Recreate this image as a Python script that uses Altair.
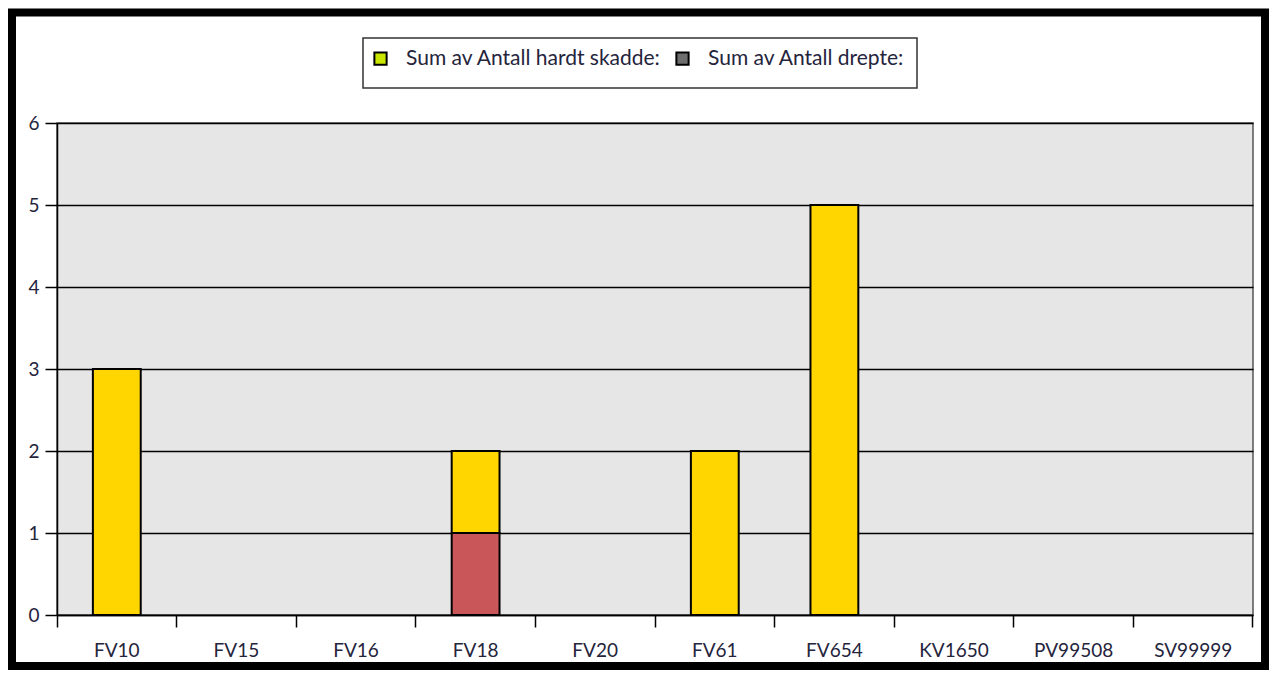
import altair as alt
import pandas as pd

categories = ["FV10", "FV15", "FV16", "FV18", "FV20", "FV61", "FV654", "KV1650", "PV99508", "SV99999"]
hardt_skadde = [3, 0, 0, 1, 0, 2, 5, 0, 0, 0]
drepte = [0, 0, 0, 1, 0, 0, 0, 0, 0, 0]
series_names = ["Sum av Antall hardt skadde:", "Sum av Antall drepte:"]
bar_colors = ["#ffd600", "#c9575a"]
legend_colors = ["#c8e600", "#6e6e6e"]
y_ticks = [0, 1, 2, 3, 4, 5, 6]

rows = []
for c, h, d in zip(categories, hardt_skadde, drepte):
    rows.append({"cat": c, "series": series_names[1], "value": d, "ord": 0})
    rows.append({"cat": c, "series": series_names[0], "value": h, "ord": 1})
df = pd.DataFrame(rows)
one = pd.DataFrame({"k": [0]})

W, H = 1196, 492
PL, PT, PR, PB = 49, 115, 16, 55
FONT = "Lato"
TXT = "#24243c"

x_enc = alt.X(
    "cat:N",
    scale=alt.Scale(domain=categories, paddingInner=0, paddingOuter=0),
    axis=alt.Axis(title=None, labelAngle=0, labelAlign="center", grid=False,
                  bandPosition=1, tickExtra=True, tickSize=12, labelPadding=23),
)
y_enc = alt.Y(
    "value:Q",
    stack="zero",
    scale=alt.Scale(domain=[0, 6], nice=False),
    axis=alt.Axis(title=None, values=y_ticks, format="d", grid=True, tickSize=12, labelPadding=6),
)

bars = (
    alt.Chart(df)
    .transform_filter("datum.value > 0")
    .mark_bar(stroke="black", strokeWidth=2, width=alt.RelativeBandSize(0.4))
    .encode(
        x=x_enc,
        y=y_enc,
        color=alt.Color("series:N", scale=alt.Scale(domain=series_names, range=bar_colors), legend=None),
        order=alt.Order("ord:Q"),
    )
)

legend_pts = (
    alt.Chart(df)
    .mark_square(opacity=0, size=10)
    .encode(
        x=alt.X("cat:N"),
        y=alt.Y("value:Q", stack=None),
        fill=alt.Fill(
            "series:N",
            scale=alt.Scale(domain=series_names, range=legend_colors),
            legend=alt.Legend(
                title=None, orient="none", legendX=313, legendY=-75,
                direction="horizontal", symbolType="square", symbolSize=150,
                symbolStrokeColor="black", symbolStrokeWidth=2, symbolOpacity=1,
                labelFont=FONT, labelFontSize=21, labelColor=TXT, labelLimit=400,
                labelOffset=15, columnPadding=10, padding=0,
            ),
        ),
    )
)

legend_box = alt.Chart(one).mark_rect(filled=False, stroke="#333333", strokeWidth=1.5).encode(
    x=alt.value(306), x2=alt.value(860), y=alt.value(-85), y2=alt.value(-35)
)
border = alt.Chart(one).mark_rect(filled=False, stroke="black", strokeWidth=8).encode(
    x=alt.value(-45), x2=alt.value(1208), y=alt.value(-110.5), y2=alt.value(543)
)

chart = (
    alt.layer(border, legend_box, legend_pts, bars)
    .properties(
        width=W, height=H,
        padding={"left": PL, "top": PT, "right": PR, "bottom": PB},
        autosize=alt.AutoSizeParams(type="none"),
        background="white",
    )
    .configure_view(fill="#e6e6e6", stroke="#555555", strokeWidth=1.5)
    .configure_axis(
        domainColor="black", domainWidth=1.5, tickColor="black", tickWidth=1.5,
        gridColor="black", gridWidth=1.5, labelFont=FONT, labelFontSize=19,
        labelColor=TXT,
    )
)

chart.save("out.html", embed_options={"renderer": "svg", "actions": False})
